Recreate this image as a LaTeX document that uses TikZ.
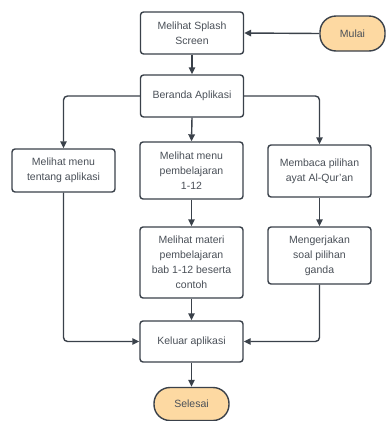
\documentclass[tikz,border=0pt]{standalone}
\usepackage{fontspec}
\setmainfont{Liberation Sans}
\usetikzlibrary{arrows.meta}
\definecolor{edgec}{HTML}{3A414A}
\definecolor{txtc}{HTML}{4A5058}
\definecolor{termc}{HTML}{FDD9A2}
\begin{document}
\begin{tikzpicture}[x=1pt,y=-1pt,
  box/.style={draw=edgec, line width=1.4pt, fill=white, rounded corners=3pt, align=center,
    text=txtc, font=\fontsize{10.5}{15}\selectfont, inner sep=0pt, minimum width=103pt},
  term/.style={box, fill=termc, rounded corners=16pt},
  arr/.style={draw=edgec, line width=1.4pt, -{Triangle[length=7pt,width=6.5pt]}, rounded corners=4pt}]
\useasboundingbox (0,0) rectangle (386,421);
\node[box, minimum height=42pt] (splash) at (192,33) {Melihat Splash\\Screen};
\node[term, minimum width=65pt, minimum height=35pt] (mulai) at (352.5,33.5) {Mulai};
\node[box, minimum height=42pt] (beranda) at (192,96) {Beranda Aplikasi};
\node[box, minimum height=43pt] (tentang) at (63.5,170.5) {Melihat menu\\tentang aplikasi};
\node[box, minimum height=57pt] (menu) at (191.5,170.5) {Melihat menu\\pembelajaran\\1-12};
\node[box, minimum height=52pt] (baca) at (319.5,171) {Membaca pilihan\\ayat Al-Qur'an};
\node[box, minimum height=71pt] (materi) at (191.5,262.5) {Melihat materi\\pembelajaran\\bab 1-12 beserta\\contoh};
\node[box, minimum height=57pt] (soal) at (319.5,255.5) {Mengerjakan\\soal pilihan\\ganda};
\node[box, minimum height=41pt] (keluar) at (191.5,341.5) {Keluar aplikasi};
\node[term, minimum width=75pt, minimum height=33pt] (selesai) at (191.5,404) {Selesai};
\draw[arr] (mulai.west) -- (splash.east);
\draw[arr] (splash.south) -- (beranda.north);
\draw[arr] (beranda.west) -| (tentang.north);
\draw[arr] (beranda.south) -- (menu.north);
\draw[arr] (beranda.east) -| (baca.north);
\draw[arr] (menu.south) -- (materi.north);
\draw[arr] (baca.south) -- (soal.north);
\draw[arr] (materi.south) -- (keluar.north);
\draw[arr] (tentang.south) |- (keluar.west);
\draw[arr] (soal.south) |- (keluar.east);
\draw[arr] (keluar.south) -- (selesai.north);
\end{tikzpicture}
\end{document}
